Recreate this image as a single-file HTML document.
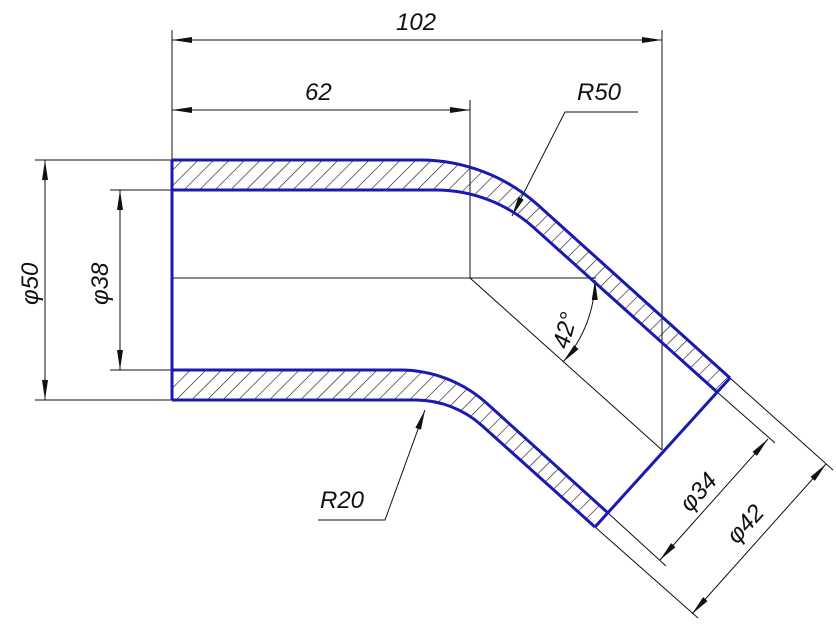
<!DOCTYPE html>
<html><head><style>body{margin:0;background:#fff}svg{display:block}text{font-family:"Liberation Sans",sans-serif;font-style:italic;font-size:24px;fill:#111}</style></head><body>
<svg width="836" height="624" viewBox="0 0 836 624" xmlns="http://www.w3.org/2000/svg">
<defs>
<marker id="a" viewBox="0 0 20 6" refX="20" refY="3" markerWidth="20" markerHeight="6" markerUnits="userSpaceOnUse" orient="auto-start-reverse"><path d="M0,0 L20,3 L0,6 Z" fill="#111"/></marker>
<pattern id="h" width="11" height="11" patternUnits="userSpaceOnUse" patternTransform="rotate(45)"><line x1="0" y1="0" x2="0" y2="11" stroke="#111" stroke-width="1.2"/></pattern>
</defs>
<g fill="url(#h)" stroke="none">
<path d="M172,160 H420 A177,177 0 0 1 538.5,205.5 L730,378 L717,392 L533.9,227.7 A147,147 0 0 0 435.6,190 H172 Z"/>
<path d="M172,370 H400 A130,130 0 0 1 487,403.5 L608,513 L595,527 L482,425.6 A100,100 0 0 0 416,400 H172 Z"/>
</g>
<g stroke="#111" stroke-width="1" fill="none">
<line x1="172" y1="30" x2="172" y2="160"/>
<line x1="662" y1="30" x2="662" y2="450"/>
<line x1="470" y1="100" x2="470" y2="278"/>
<line x1="172" y1="40" x2="662" y2="40" marker-start="url(#a)" marker-end="url(#a)"/>
<line x1="172" y1="110" x2="470" y2="110" marker-start="url(#a)" marker-end="url(#a)"/>
<line x1="35" y1="160" x2="172" y2="160"/>
<line x1="35" y1="400" x2="172" y2="400"/>
<line x1="110" y1="190" x2="172" y2="190"/>
<line x1="110" y1="370" x2="172" y2="370"/>
<line x1="45" y1="160" x2="45" y2="400" marker-start="url(#a)" marker-end="url(#a)"/>
<line x1="120" y1="190" x2="120" y2="370" marker-start="url(#a)" marker-end="url(#a)"/>
<line x1="172" y1="278" x2="596" y2="278"/>
<line x1="470" y1="278" x2="662" y2="450"/>
<path d="M595,280 A125,125 0 0 1 563,362" marker-start="url(#a)" marker-end="url(#a)"/>
<polyline points="638,112 565,112 512,216" marker-end="url(#a)"/>
<polyline points="318,520 385,520 425,410" marker-end="url(#a)"/>
<line x1="717" y1="392" x2="775" y2="443"/>
<line x1="608" y1="513" x2="666" y2="566"/>
<line x1="730" y1="378" x2="833" y2="470"/>
<line x1="595" y1="527" x2="698" y2="618"/>
<line x1="768" y1="439" x2="660" y2="560" marker-start="url(#a)" marker-end="url(#a)"/>
<line x1="826" y1="464" x2="692" y2="614" marker-start="url(#a)" marker-end="url(#a)"/>
</g>
<g stroke="#1a1ab0" stroke-width="3" fill="none" stroke-linejoin="round">
<path d="M172,160 H420 A177,177 0 0 1 538.5,205.5 L730,378"/>
<path d="M172,190 H435.6 A147,147 0 0 1 533.9,227.7 L717,392"/>
<path d="M172,370 H400 A130,130 0 0 1 487,403.5 L608,513"/>
<path d="M172,400 H416 A100,100 0 0 1 482,425.6 L595,527"/>
<line x1="172" y1="160" x2="172" y2="400"/>
<line x1="730" y1="378" x2="595" y2="527"/>
</g>
<text x="396" y="30">102</text>
<text x="305" y="100">62</text>
<text x="577" y="100">R50</text>
<text x="320" y="508">R20</text>
<text transform="translate(38,305) rotate(-90)">φ50</text>
<text transform="translate(108,305) rotate(-90)">φ38</text>
<text transform="translate(568,350) rotate(-75)">42°</text>
<text transform="translate(690,513) rotate(-48)">φ34</text>
<text transform="translate(737,545) rotate(-48)">φ42</text>
</svg>
</body></html>
